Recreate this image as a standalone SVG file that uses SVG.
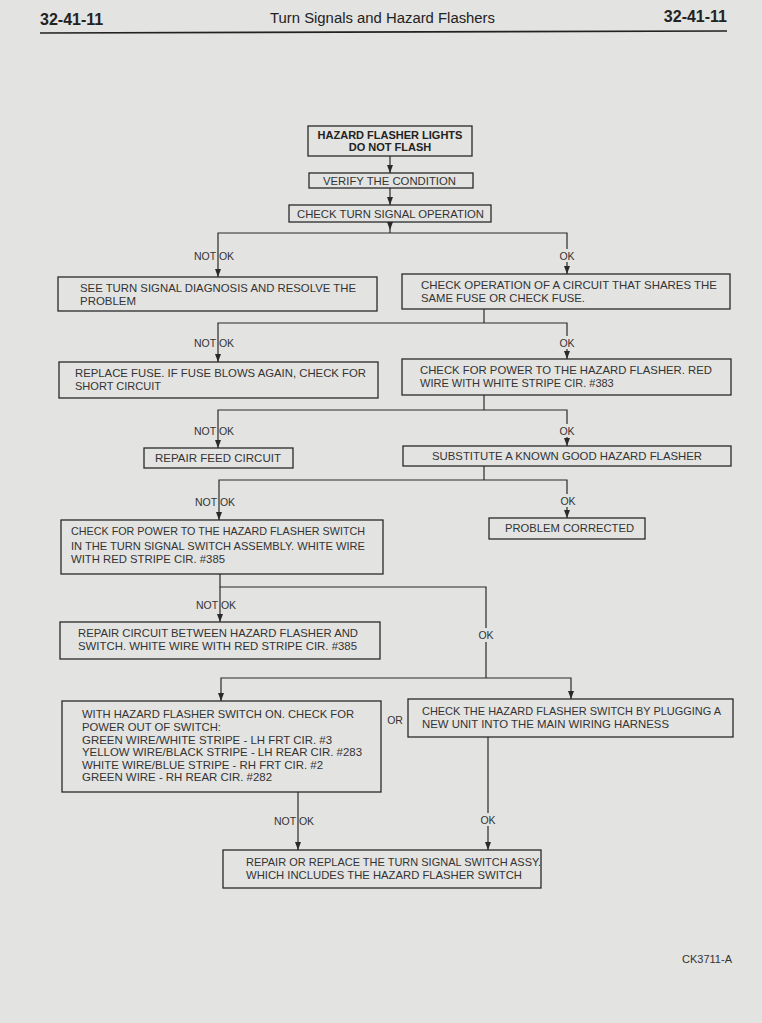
<svg xmlns="http://www.w3.org/2000/svg" width="762" height="1023" viewBox="0 0 762 1023">
<defs>
<marker id="ah" markerUnits="userSpaceOnUse" markerWidth="9" markerHeight="6" refX="8" refY="3" orient="auto">
<path d="M0,0 L8,3 L0,6 z" fill="#2a2a2a"/>
</marker>
<style>
.bx{fill:none;stroke:#2a2a2a;stroke-width:1.3}
.ln{fill:none;stroke:#2a2a2a;stroke-width:1.2}
.ar{fill:none;stroke:#2a2a2a;stroke-width:1.2;marker-end:url(#ah)}
.t{font-family:"Liberation Sans",Arial,sans-serif;font-size:11px;fill:#333}
.b{font-family:"Liberation Sans",Arial,sans-serif;font-size:11px;font-weight:bold;fill:#222}
.lb{font-family:"Liberation Sans",Arial,sans-serif;font-size:10.5px;fill:#333}
.h{font-family:"Liberation Sans",Arial,sans-serif;fill:#222}
</style>
</defs>
<rect width="762" height="1023" fill="#e3e3e1"/>
<g id="header">
<text class="h" x="40" y="25" font-size="16" font-weight="bold">32-41-11</text>
<text class="h" x="270" y="23" font-size="14" textLength="225" lengthAdjust="spacingAndGlyphs">Turn Signals and Hazard Flashers</text>
<text class="h" x="727" y="22" font-size="16" font-weight="bold" text-anchor="end">32-41-11</text>
<line x1="40" y1="33" x2="727" y2="31" stroke="#222" stroke-width="1.6"/>
</g>
<g id="connectors">
<path class="ar" d="M390,156 V173"/>
<path class="ar" d="M390,188 V205"/>
<path class="ar" d="M390,222 V230"/>
<path class="ln" d="M390,230 V233"/>
<path class="ar" d="M390,233 H218 V277"/>
<path class="ar" d="M390,233 H567 V249 M567,262 V274"/>
<path class="ln" d="M484,309 V323"/>
<path class="ar" d="M484,323 H218 V362"/>
<path class="ar" d="M484,323 H567 V336 M567,349 V359"/>
<path class="ln" d="M484,395 V410"/>
<path class="ar" d="M484,410 H218 V448"/>
<path class="ar" d="M484,410 H567 V424 M567,437 V446"/>
<path class="ln" d="M484,466 V480"/>
<path class="ar" d="M484,480 H219 V520"/>
<path class="ar" d="M484,480 H567 V494 M567,507 V518"/>
<path class="ln" d="M220,574 V587 H486 V628 M486,642 V678"/>
<path class="ar" d="M220,587 V622"/>
<path class="ar" d="M486,678 H221 V701"/>
<path class="ar" d="M486,678 H571 V699"/>
<path class="ar" d="M298,792 V850"/>
<path class="ar" d="M488,737 V813 M488,826 V850"/>
</g>
<g id="labels">
<text class="lb" x="194" y="260">NOT OK</text>
<text class="lb" x="567" y="260" text-anchor="middle">OK</text>
<text class="lb" x="194" y="347">NOT OK</text>
<text class="lb" x="567" y="347" text-anchor="middle">OK</text>
<text class="lb" x="194" y="435">NOT OK</text>
<text class="lb" x="567" y="435" text-anchor="middle">OK</text>
<text class="lb" x="195" y="506">NOT OK</text>
<text class="lb" x="568" y="505" text-anchor="middle">OK</text>
<text class="lb" x="196" y="609">NOT OK</text>
<text class="lb" x="486" y="639" text-anchor="middle">OK</text>
<text class="lb" x="395" y="724" text-anchor="middle">OR</text>
<text class="lb" x="274" y="825">NOT OK</text>
<text class="lb" x="488" y="824" text-anchor="middle">OK</text>
</g>
<g id="n1">
<rect class="bx" x="308" y="126" width="164" height="30"/>
<text class="b" x="390" y="139" text-anchor="middle">HAZARD FLASHER LIGHTS</text>
<text class="b" x="390" y="151" text-anchor="middle">DO NOT FLASH</text>
</g>
<g id="n2">
<rect class="bx" x="309" y="173" width="164" height="15"/>
<text class="t" x="323" y="185" textLength="133" lengthAdjust="spacingAndGlyphs">VERIFY THE CONDITION</text>
</g>
<g id="n3">
<rect class="bx" x="289" y="205" width="202" height="17"/>
<text class="t" x="297" y="218" textLength="187" lengthAdjust="spacingAndGlyphs">CHECK TURN SIGNAL OPERATION</text>
</g>
<g id="n4">
<rect class="bx" x="58" y="277" width="319" height="34"/>
<text class="t" x="80" y="292" textLength="276" lengthAdjust="spacingAndGlyphs">SEE TURN SIGNAL DIAGNOSIS AND RESOLVE THE</text>
<text class="t" x="80" y="305" textLength="56" lengthAdjust="spacingAndGlyphs">PROBLEM</text>
</g>
<g id="n5">
<rect class="bx" x="402" y="274" width="328" height="35"/>
<text class="t" x="421" y="289" textLength="296" lengthAdjust="spacingAndGlyphs">CHECK OPERATION OF A CIRCUIT THAT SHARES THE</text>
<text class="t" x="421" y="302" textLength="164" lengthAdjust="spacingAndGlyphs">SAME FUSE OR CHECK FUSE.</text>
</g>
<g id="n6">
<rect class="bx" x="59" y="362" width="319" height="36"/>
<text class="t" x="75" y="377" textLength="291" lengthAdjust="spacingAndGlyphs">REPLACE FUSE. IF FUSE BLOWS AGAIN, CHECK FOR</text>
<text class="t" x="75" y="390" textLength="86" lengthAdjust="spacingAndGlyphs">SHORT CIRCUIT</text>
</g>
<g id="n7">
<rect class="bx" x="402" y="359" width="329" height="36"/>
<text class="t" x="420" y="374" textLength="292" lengthAdjust="spacingAndGlyphs">CHECK FOR POWER TO THE HAZARD FLASHER. RED</text>
<text class="t" x="420" y="387">WIRE WITH WHITE STRIPE CIR. #383</text>
</g>
<g id="n8">
<rect class="bx" x="144" y="448" width="149" height="20"/>
<text class="t" x="155" y="462" textLength="126" lengthAdjust="spacingAndGlyphs">REPAIR FEED CIRCUIT</text>
</g>
<g id="n9">
<rect class="bx" x="403" y="446" width="328" height="20"/>
<text class="t" x="432" y="460" textLength="270" lengthAdjust="spacingAndGlyphs">SUBSTITUTE A KNOWN GOOD HAZARD FLASHER</text>
</g>
<g id="n10">
<rect class="bx" x="61" y="520" width="322" height="54"/>
<text class="t" x="71" y="535" textLength="294" lengthAdjust="spacingAndGlyphs">CHECK FOR POWER TO THE HAZARD FLASHER SWITCH</text>
<text class="t" x="71" y="550" textLength="294" lengthAdjust="spacingAndGlyphs">IN THE TURN SIGNAL SWITCH ASSEMBLY. WHITE WIRE</text>
<text class="t" x="71" y="563" textLength="154" lengthAdjust="spacingAndGlyphs">WITH RED STRIPE CIR. #385</text>
</g>
<g id="n11">
<rect class="bx" x="489" y="518" width="156" height="21"/>
<text class="t" x="505" y="532" textLength="129" lengthAdjust="spacingAndGlyphs">PROBLEM CORRECTED</text>
</g>
<g id="n12">
<rect class="bx" x="60" y="622" width="320" height="37"/>
<text class="t" x="78" y="637" textLength="280" lengthAdjust="spacingAndGlyphs">REPAIR CIRCUIT BETWEEN HAZARD FLASHER AND</text>
<text class="t" x="78" y="650" textLength="279" lengthAdjust="spacingAndGlyphs">SWITCH. WHITE WIRE WITH RED STRIPE CIR. #385</text>
</g>
<g id="n13">
<rect class="bx" x="62" y="701" width="319" height="91"/>
<text class="t" x="82" y="718" textLength="272" lengthAdjust="spacingAndGlyphs">WITH HAZARD FLASHER SWITCH ON. CHECK FOR</text>
<text class="t" x="82" y="731" textLength="139" lengthAdjust="spacingAndGlyphs">POWER OUT OF SWITCH:</text>
<text class="t" x="82" y="744" textLength="250" lengthAdjust="spacingAndGlyphs">GREEN WIRE/WHITE STRIPE - LH FRT CIR. #3</text>
<text class="t" x="82" y="756" textLength="280" lengthAdjust="spacingAndGlyphs">YELLOW WIRE/BLACK STRIPE - LH REAR CIR. #283</text>
<text class="t" x="82" y="769" textLength="241" lengthAdjust="spacingAndGlyphs">WHITE WIRE/BLUE STRIPE - RH FRT CIR. #2</text>
<text class="t" x="82" y="781" textLength="190" lengthAdjust="spacingAndGlyphs">GREEN WIRE - RH REAR CIR. #282</text>
</g>
<g id="n14">
<rect class="bx" x="408" y="699" width="325" height="38"/>
<text class="t" x="422" y="715" textLength="299" lengthAdjust="spacingAndGlyphs">CHECK THE HAZARD FLASHER SWITCH BY PLUGGING A</text>
<text class="t" x="422" y="728" textLength="247" lengthAdjust="spacingAndGlyphs">NEW UNIT INTO THE MAIN WIRING HARNESS</text>
</g>
<g id="n15">
<rect class="bx" x="223" y="850" width="318" height="38"/>
<text class="t" x="246" y="866" textLength="295" lengthAdjust="spacingAndGlyphs">REPAIR OR REPLACE THE TURN SIGNAL SWITCH ASSY.</text>
<text class="t" x="246" y="879" textLength="276" lengthAdjust="spacingAndGlyphs">WHICH INCLUDES THE HAZARD FLASHER SWITCH</text>
</g>
<g id="footer">
<text class="t" x="707" y="963" text-anchor="middle" font-size="10" fill="#555">CK3711-A</text>
</g>
</svg>
